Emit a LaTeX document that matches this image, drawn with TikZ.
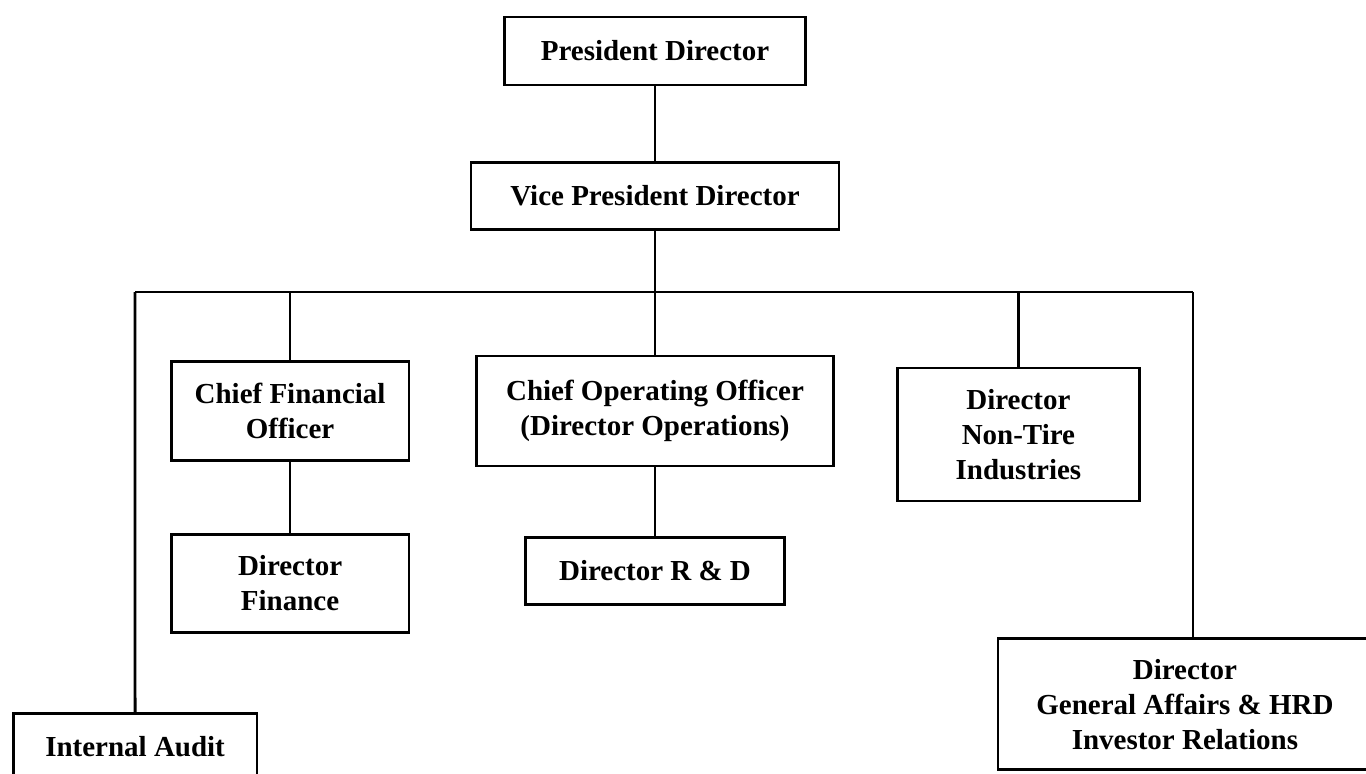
\documentclass[tikz,border=0pt]{standalone}
\usepackage{fontspec}
\setmainfont{Liberation Serif}
\tikzstyle{post} = [rectangle, minimum width=4.76cm, minimum height=1.96cm, align=center, inner sep=0pt, line width=1.6pt, draw=black, font=\bfseries\fontsize{16.5}{20}\selectfont]
\tikzstyle{link} = [line width=1.6pt]
\begin{document}
\begin{tikzpicture}[x=0.02cm, y=-0.02cm, node distance=2.9cm]

\clip (0,0) rectangle (1366,774);

\node (pres) [post, minimum width=6.02cm, minimum height=1.36cm] at (655,51) {President Director};

\node (vp) [post, below of=pres, minimum width=7.36cm, minimum height=1.34cm] {Vice President Director};

\draw[link] (pres) -- (vp);

\coordinate (busL) at (135,292);
\coordinate (busR) at (1193,292);

\draw[link] (busL) -- (busR);

\node (coo) [post, below of=vp, yshift=-1.4cm, minimum width=7.14cm, minimum height=2.2cm] {Chief Operating Officer\\(Director Operations)};

\draw[link] (vp) -- (coo);

\node (rnd) [post, below of=coo, yshift=-0.3cm, minimum width=5.18cm, minimum height=1.34cm] {Director R \& D};

\draw[link] (coo) -- (rnd);

\node (cfo) [post, left of=coo, xshift=-4.4cm, minimum height=1.98cm] {Chief Financial\\Officer};

\draw[link] (cfo) -- (cfo |- busL);

\node (fin) [post, below of=cfo, yshift=-0.55cm] {Director\\Finance};

\draw[link] (cfo) -- (fin);

\node (ntire) [post, right of=coo, xshift=4.37cm, yshift=-0.47cm, minimum width=4.84cm, minimum height=2.66cm] {Director\\Non-Tire\\Industries};

\draw[link] (ntire) -- (ntire |- busL);

\node (audit) [post, below of=fin, xshift=-3.1cm, yshift=-0.37cm, minimum width=4.88cm, minimum height=1.32cm] {Internal Audit};

\draw[link] (busL) -- (audit);

\node (ga) [post, below of=ntire, xshift=3.33cm, yshift=-2.5cm, minimum width=7.48cm, minimum height=2.62cm] {Director\\General Affairs \& HRD\\Investor Relations};

\draw[link] (busR) -- (busR |- ga.north);

\end{tikzpicture}
\end{document}
